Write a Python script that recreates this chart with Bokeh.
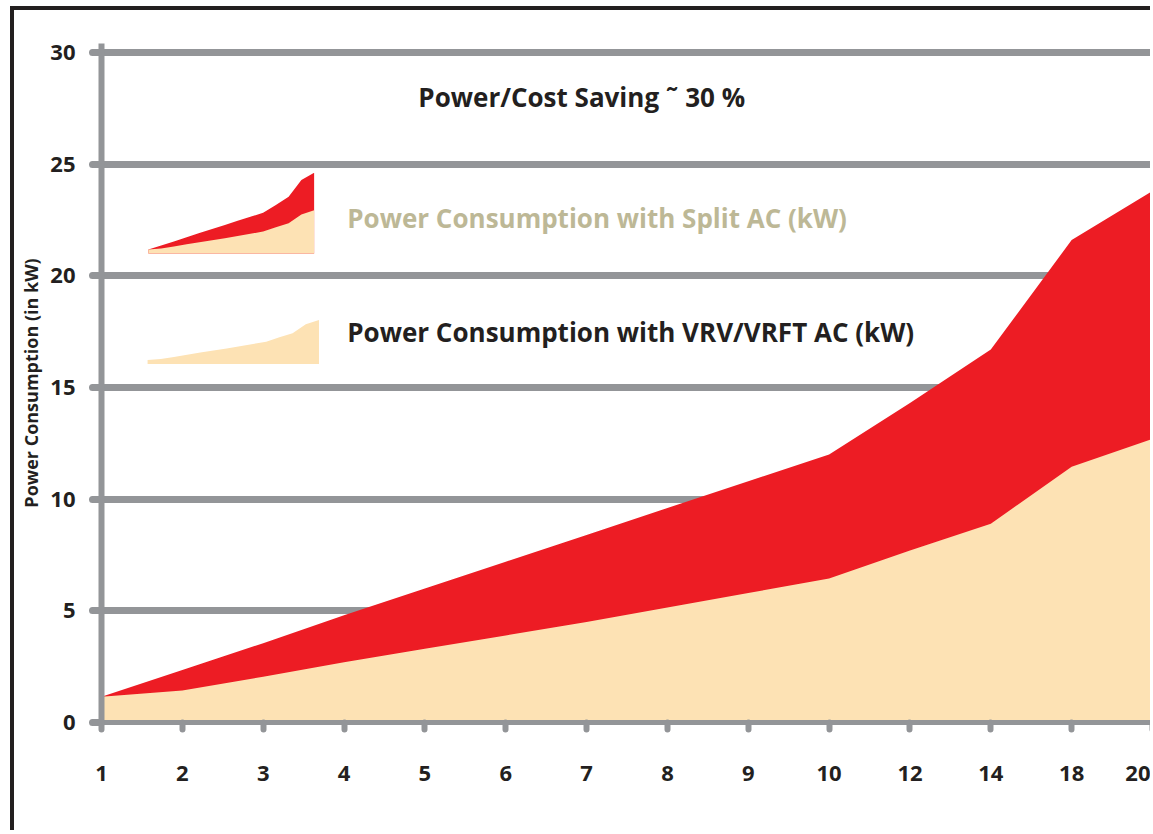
from bokeh.plotting import figure
from bokeh.models import Range1d, FixedTicker, Label
from bokeh.embed import file_html
from bokeh.resources import INLINE

# ---- data ----
x_labels = ["1", "2", "3", "4", "5", "6", "7", "8", "9", "10", "12", "14", "18", "20"]
split_ac = [1.15, 2.35, 3.55, 4.8, 6.0, 7.2, 8.4, 9.6, 10.8, 12.0, 14.3, 16.7, 21.6, 23.8]
vrv_ac = [1.15, 1.43, 2.05, 2.7, 3.3, 3.9, 4.5, 5.15, 5.8, 6.45, 7.7, 8.9, 11.45, 12.7]
y_ticks = [0, 5, 10, 15, 20, 25, 30]
title_text = "Power/Cost Saving \u02dc 30 %"
legend_split = "Power Consumption with Split AC (kW)"
legend_vrv = "Power Consumption with VRV/VRFT AC (kW)"
y_label = "Power Consumption (in kW)"

RED = "#ED1C24"
BEIGE = "#FDE2B4"
GRAY = "#939598"
INK = "#231f20"
FONT = "Open Sans"

idx = list(range(len(x_labels)))
n = len(idx)
zeros = [0] * n

p = figure(width=1136, height=820, output_backend="svg", toolbar_location=None,
           x_range=Range1d(0, n - 1), y_range=Range1d(0, 30.4),
           min_border_left=87, min_border_right=2, min_border_top=33,
           min_border_bottom=112)
p.styles = {"border-left": "4px solid #231f20", "border-top": "4px solid #231f20",
            "margin": "6px 0 0 10px", "box-sizing": "content-box"}
p.outline_line_color = None
p.background_fill_color = "white"
p.border_fill_color = "white"

# main areas
p.varea(x=idx, y1=zeros, y2=split_ac, fill_color=RED)
p.varea(x=idx, y1=zeros, y2=vrv_ac, fill_color=BEIGE)

# legend swatches: miniature versions of the series
def mini(x0, x1, base, k, vals):
    xs = [x0 + i * (x1 - x0) / (n - 1) for i in idx]
    ys = [base + v * k for v in vals]
    return xs, ys

m1x, m1top = mini(0.58, 2.63, 21.0, 0.152, split_ac)
_, m1mid = mini(0.58, 2.63, 21.0, 0.152, vrv_ac)
p.varea(x=m1x, y1=[21.0] * n, y2=m1top, fill_color=RED)
p.varea(x=m1x, y1=[21.0] * n, y2=m1mid, fill_color=BEIGE)
m2x, m2top = mini(0.57, 2.69, 16.05, 0.155, vrv_ac)
p.varea(x=m2x, y1=[16.05] * n, y2=m2top, fill_color=BEIGE)

# grid
p.xgrid.visible = False
p.ygrid.ticker = FixedTicker(ticks=y_ticks)
p.ygrid.grid_line_color = GRAY
p.ygrid.grid_line_width = 7
p.ygrid.grid_line_cap = "round"

# y axis
ya = p.yaxis[0]
ya.ticker = FixedTicker(ticks=y_ticks)
ya.axis_line_color = GRAY
ya.axis_line_width = 6
ya.major_tick_line_color = GRAY
ya.major_tick_line_width = 7
ya.major_tick_line_cap = "round"
ya.major_tick_out = 9
ya.major_tick_in = 0
ya.minor_tick_line_color = None
ya.major_label_text_font = FONT
ya.major_label_text_font_style = "bold"
ya.major_label_text_font_size = "22px"
ya.major_label_text_color = INK
ya.major_label_standoff = 17
ya.axis_label = y_label
ya.axis_label_text_font = FONT
ya.axis_label_text_font_style = "bold"
ya.axis_label_text_font_size = "18px"
ya.axis_label_text_color = INK
ya.axis_label_standoff = 4

# x axis
xa = p.xaxis[0]
xa.ticker = FixedTicker(ticks=idx)
xa.major_label_overrides = {i: lab for i, lab in zip(idx, x_labels)}
xa.axis_line_color = GRAY
xa.axis_line_width = 5
xa.major_tick_line_color = GRAY
xa.major_tick_line_width = 6
xa.major_tick_line_cap = "round"
xa.major_tick_out = 7
xa.major_tick_in = 0
xa.minor_tick_line_color = None
xa.major_label_text_font = FONT
xa.major_label_text_font_style = "bold"
xa.major_label_text_font_size = "22px"
xa.major_label_text_color = INK
xa.major_label_standoff = 36

# texts
p.add_layout(Label(x=5.94, y=27.99, text=title_text, text_align="center",
                   text_baseline="middle", text_font=FONT,
                   text_font_style="bold", text_font_size="26px", text_color=INK))
p.add_layout(Label(x=3.04, y=22.6, text=legend_split, text_align="left",
                   text_baseline="middle", text_font=FONT,
                   text_font_style="bold", text_font_size="26px", text_color="#bdb896"))
p.add_layout(Label(x=3.04, y=17.49, text=legend_vrv, text_align="left",
                   text_baseline="middle", text_font=FONT,
                   text_font_style="bold", text_font_size="26px", text_color=INK))

open("out.html", "w").write(file_html(p, INLINE))
